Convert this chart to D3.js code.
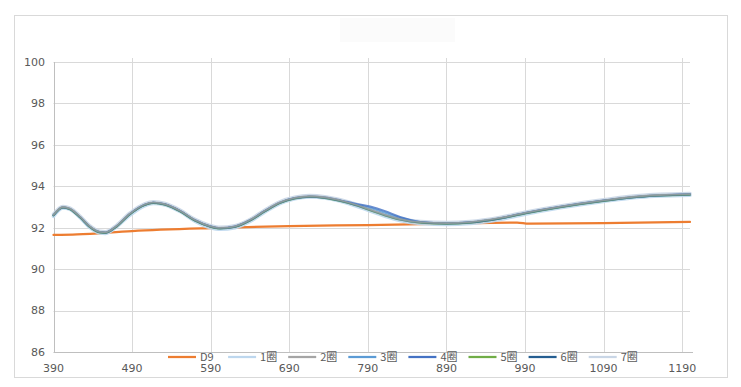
<!DOCTYPE html>
<html>
<head>
<meta charset="utf-8">
<script src="https://cdn.jsdelivr.net/npm/d3@7"></script>
<style>
  body { margin: 0; background: #fff; }
  svg text { font-family: "DejaVu Sans", sans-serif; fill: #595959; }
  .legend text { font-family: "Noto Sans CJK SC", sans-serif; }
</style>
</head>
<body>
<div id="chart"></div>
<script>
// x positions (shared by the 7 laps)
var xs = [390, 402, 411, 424, 436, 449, 456, 468, 487, 506, 517, 532, 551, 570, 590, 602, 621, 640, 659, 678,
          697, 716, 735, 755, 774, 793, 812, 831, 857, 891, 920, 958, 990, 1035, 1090, 1136, 1162, 1200]

var lap1 = [92.55, 92.95, 92.88, 92.48, 92.02, 91.74, 91.72, 91.97, 92.60, 93.06, 93.17, 93.10, 92.78, 92.32, 92.00, 91.92, 92.00, 92.30, 92.76, 93.16,
            93.40, 93.48, 93.44, 93.28, 93.06, 92.80, 92.55, 92.35, 92.20, 92.15, 92.20, 92.40, 92.65, 92.96, 93.27, 93.47, 93.53, 93.57]
var lap2 = [92.62, 93.00, 92.92, 92.52, 92.07, 91.80, 91.78, 92.02, 92.67, 93.12, 93.22, 93.14, 92.82, 92.37, 92.07, 91.99, 92.07, 92.37, 92.82, 93.22,
            93.44, 93.52, 93.47, 93.32, 93.12, 92.87, 92.62, 92.42, 92.27, 92.22, 92.27, 92.47, 92.72, 93.02, 93.32, 93.52, 93.58, 93.62]
var lap3 = [92.60, 92.98, 92.90, 92.50, 92.05, 91.78, 91.76, 92.00, 92.65, 93.10, 93.20, 93.12, 92.80, 92.35, 92.05, 91.97, 92.05, 92.35, 92.80, 93.20,
            93.42, 93.50, 93.45, 93.30, 93.12, 92.95, 92.72, 92.48, 92.27, 92.20, 92.25, 92.45, 92.70, 93.00, 93.30, 93.50, 93.56, 93.60]
var lap4 = [92.61, 92.99, 92.91, 92.51, 92.06, 91.79, 91.77, 92.01, 92.66, 93.11, 93.21, 93.13, 92.81, 92.36, 92.06, 91.98, 92.06, 92.36, 92.81, 93.21,
            93.43, 93.51, 93.46, 93.32, 93.16, 93.02, 92.80, 92.52, 92.28, 92.21, 92.26, 92.46, 92.71, 93.01, 93.31, 93.51, 93.57, 93.61]
var lap5 = [92.59, 92.97, 92.89, 92.49, 92.04, 91.77, 91.75, 91.99, 92.64, 93.09, 93.19, 93.11, 92.79, 92.34, 92.04, 91.96, 92.04, 92.34, 92.79, 93.19,
            93.41, 93.49, 93.44, 93.29, 93.09, 92.84, 92.59, 92.39, 92.24, 92.19, 92.24, 92.44, 92.69, 92.99, 93.29, 93.49, 93.55, 93.59]
var lap6 = [92.60, 92.98, 92.90, 92.50, 92.05, 91.78, 91.76, 92.00, 92.65, 93.10, 93.20, 93.12, 92.80, 92.35, 92.05, 91.97, 92.05, 92.35, 92.80, 93.20,
            93.42, 93.50, 93.45, 93.30, 93.10, 92.85, 92.60, 92.40, 92.25, 92.20, 92.25, 92.45, 92.70, 93.00, 93.30, 93.50, 93.56, 93.60]
var lap7 = [92.66, 93.03, 92.95, 92.55, 92.10, 91.83, 91.81, 92.05, 92.70, 93.15, 93.25, 93.17, 92.85, 92.40, 92.10, 92.02, 92.10, 92.40, 92.85, 93.25,
            93.47, 93.55, 93.50, 93.35, 93.15, 92.90, 92.65, 92.45, 92.30, 92.25, 92.30, 92.50, 92.75, 93.05, 93.35, 93.55, 93.61, 93.65]

// D9 reference line
var d9x = [390, 420, 490, 590, 690, 790, 890, 980, 995, 1090, 1200]
var d9y = [91.65, 91.68, 91.84, 91.98, 92.08, 92.13, 92.20, 92.25, 92.20, 92.22, 92.28]

var seriesNames = ['D9', '1圈', '2圈', '3圈', '4圈', '5圈', '6圈', '7圈']
var seriesColors = ['#ed7d31', '#bdd7ee', '#a5a5a5', '#5b9bd5', '#4472c4', '#70ad47', '#255e91', '#c9d6e6']

var yTicks = [86, 88, 90, 92, 94, 96, 98, 100]
var xTicks = [390, 490, 590, 690, 790, 890, 990, 1090, 1190]

var W = 741, H = 387

var x = d3.scaleLinear().domain([390, 1200]).range([53.5, 690]),
    y = d3.scaleLinear().domain([86, 100]).range([352, 62])

var svg = d3.select('#chart').append('svg')
  .attr('width', W)
  .attr('height', H)

// chart frame
svg.append('rect')
  .attr('x', 14.5).attr('y', 15.5)
  .attr('width', 713).attr('height', 362)
  .attr('fill', '#fff')
  .attr('stroke', '#d9d9d9')

// faint (empty) title box
svg.append('rect')
  .attr('x', 340).attr('y', 18)
  .attr('width', 115).attr('height', 24)
  .attr('fill', '#fbfbfb')

// horizontal gridlines
svg.append('g').selectAll('line').data(yTicks.slice(1)).enter()
  .append('line')
  .attr('x1', x(390)).attr('x2', x(1200))
  .attr('y1', d => Math.round(y(d)) + 0.5)
  .attr('y2', d => Math.round(y(d)) + 0.5)
  .attr('stroke', '#d9d9d9')

// vertical gridlines
svg.append('g').selectAll('line').data(xTicks.slice(1)).enter()
  .append('line')
  .attr('x1', d => Math.round(x(d)) + 0.5)
  .attr('x2', d => Math.round(x(d)) + 0.5)
  .attr('y1', y(100) - 4).attr('y2', y(86))
  .attr('stroke', '#d9d9d9')

// axis lines
svg.append('line')
  .attr('x1', Math.round(x(390)) + 0.5).attr('x2', Math.round(x(390)) + 0.5)
  .attr('y1', y(100)).attr('y2', y(86))
  .attr('stroke', '#bfbfbf')
svg.append('line')
  .attr('x1', x(390)).attr('x2', x(1200) + 3)
  .attr('y1', Math.round(y(86)) + 0.5).attr('y2', Math.round(y(86)) + 0.5)
  .attr('stroke', '#bfbfbf')

// y labels
svg.append('g').selectAll('text').data(yTicks).enter()
  .append('text')
  .attr('x', 45).attr('y', d => y(d))
  .attr('dy', '0.35em')
  .attr('text-anchor', 'end')
  .attr('font-size', 11)
  .text(d => d)

// x labels
svg.append('g').selectAll('text').data(xTicks).enter()
  .append('text')
  .attr('x', d => x(d)).attr('y', 368)
  .attr('dy', '0.35em')
  .attr('text-anchor', 'middle')
  .attr('font-size', 11)
  .text(d => d)

var line = d3.line()
  .x(d => x(d[0]))
  .y(d => y(d[1]))
  .curve(d3.curveMonotoneX)

var laps = [lap1, lap2, lap3, lap4, lap5, lap6, lap7]
var seriesData = [d9x.map((v, i) => [v, d9y[i]])]
  .concat(laps.map(arr => xs.map((v, i) => [v, arr[i]])))
  .map((pts, i) => ({pts: pts, i: i}))

// pale laps underneath as a halo, gray lap on top gives the slate tone
var drawOrder = [0, 1, 7, 3, 4, 5, 6, 2]
var widths = [2.25, 3.5, 1.8, 2, 2, 2, 2, 3.5]
var alphas = [1, 0.9, 0.75, 0.8, 0.8, 0.7, 0.55, 0.9]

svg.append('g').selectAll('path').data(drawOrder.map(k => seriesData[k])).enter()
  .append('path')
  .attr('d', d => line(d.pts))
  .attr('fill', 'none')
  .attr('stroke', d => seriesColors[d.i])
  .attr('stroke-width', d => widths[d.i])
  .attr('stroke-linejoin', 'round')
  .attr('stroke-linecap', 'round')
  .attr('opacity', d => alphas[d.i])

// legend (sits on top of the x labels, like the original)
var legend = svg.append('g').attr('class', 'legend')
  .selectAll('g').data(seriesNames).enter()
  .append('g')
  .attr('transform', (d, i) => `translate(${168 + i * 60.1},357)`)

legend.append('line')
  .attr('x1', 0).attr('x2', 28)
  .attr('stroke', (d, i) => seriesColors[i])
  .attr('stroke-width', 2.25)

legend.append('text')
  .attr('x', 32).attr('dy', '0.35em')
  .attr('font-size', 11)
  .text(d => d)
</script>
</body>
</html>
